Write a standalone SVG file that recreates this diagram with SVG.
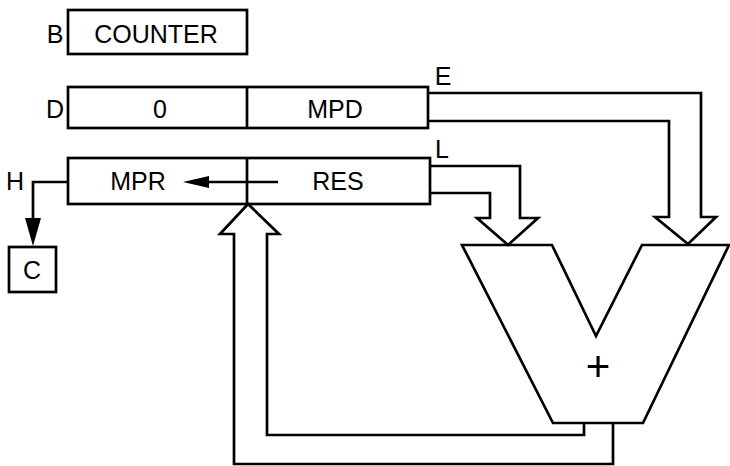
<svg xmlns="http://www.w3.org/2000/svg" width="730" height="466" viewBox="0 0 730 466">
<style>
.box{fill:#fff;stroke:#000;stroke-width:2.7}
.ln{fill:none;stroke:#000;stroke-width:2.7;stroke-linejoin:miter}
.t{font-family:"Liberation Sans",Arial,sans-serif;font-size:25px;fill:#000;text-anchor:middle}
</style>
<g id="counter">
<rect class="box" x="68" y="10" width="179" height="44"/>
<text class="t" x="156" y="43">COUNTER</text>
<text class="t" x="55" y="43">B</text>
</g>
<g id="regD">
<rect class="box" x="68" y="87" width="360" height="41"/>
<line class="ln" x1="247" y1="87" x2="247" y2="128"/>
<text class="t" x="160" y="118">0</text>
<text class="t" x="335" y="118">MPD</text>
<text class="t" x="55" y="118">D</text>
<text class="t" x="443" y="85">E</text>
</g>
<g id="regL">
<rect class="box" x="68" y="158" width="362" height="46"/>
<line class="ln" x1="247" y1="158" x2="247" y2="204"/>
<text class="t" x="138" y="190">MPR</text>
<text class="t" x="338" y="190">RES</text>
<text class="t" x="15" y="190">H</text>
<text class="t" x="442" y="158">L</text>
</g>
<g id="regC">
<rect class="box" x="9" y="247" width="47" height="45"/>
<text class="t" x="32" y="279">C</text>
</g>
<g id="adder">
<polygon class="box" points="462,245 552,245 596,336 642,245 729,245 643,423 553,423"/>
<text x="598" y="381" style="font-family:'Liberation Sans',Arial,sans-serif;font-size:42px;text-anchor:middle">+</text>
</g>
<g id="connectors">
<path class="ln" d="M428,93 H701 V217 H716 L688,244 L655,217 H669 V121 H428"/>
<path class="ln" d="M430,166 H520 V218 H538 L508,245 L477,218 H490 V193 H430"/>
<path class="ln" d="M613,423 V464 H234 V234 H220 L248,204 L279,234 H267 V435 H584 V423"/>
<line class="ln" x1="278" y1="182" x2="200" y2="182"/>
<path d="M183,182 L209,176 L209,188 Z" fill="#000"/>
<path class="ln" d="M68,182 H33 V222"/>
<path d="M33,246 L25,218 L41,218 Z" fill="#000"/>
</g>
</svg>
